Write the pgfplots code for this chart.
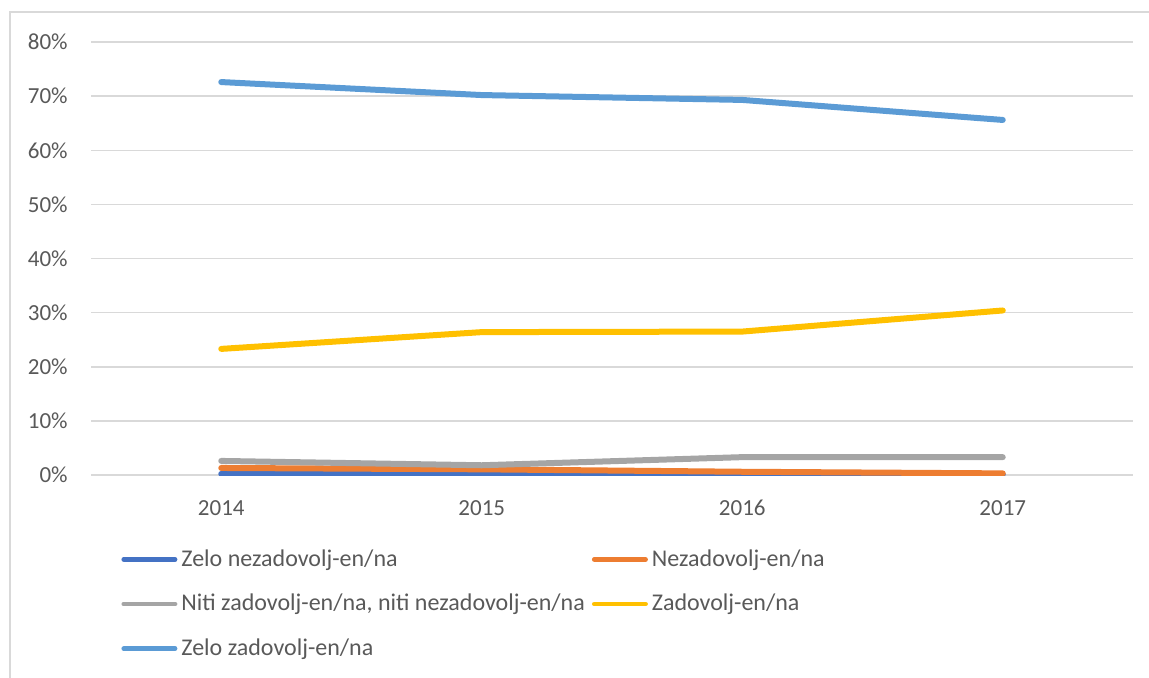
\documentclass[border=0pt]{standalone}
\usepackage{fontspec}
\setmainfont{Carlito}
\usepackage{pgfplots}
\pgfplotsset{compat=1.18}
\definecolor{cA}{HTML}{4472C4}
\definecolor{cB}{HTML}{ED7D31}
\definecolor{cC}{HTML}{A5A5A5}
\definecolor{cD}{HTML}{FFC000}
\definecolor{cE}{HTML}{5B9BD5}
\definecolor{gridc}{HTML}{D9D9D9}
\definecolor{textc}{HTML}{595959}
\begin{document}
\begin{tikzpicture}
\path[use as bounding box] (0pt,0pt) rectangle (574.5pt,-339pt);
\draw[gridc, line width=0.75pt] (5pt,-339pt) -- (5pt,-6pt) -- (574.5pt,-6pt);
\begin{axis}[
  at={(45.5pt,-237.5pt)}, anchor=south west,
  scale only axis, width=521pt, height=216.5pt,
  xmin=-0.5, xmax=3.5, ymin=0, ymax=0.8,
  xtick={0,1,2,3}, xticklabels={2014,2015,2016,2017},
  ytick={0,0.1,0.2,0.3,0.4,0.5,0.6,0.7,0.8},
  yticklabels={0\%,10\%,20\%,30\%,40\%,50\%,60\%,70\%,80\%},
  axis line style={draw=none},
  major tick length=0pt,
  ymajorgrids, grid style={gridc, line width=0.75pt},
  tick label style={font=\fontsize{11.5}{14}\selectfont, text=textc},
  yticklabel style={anchor=east, inner sep=0pt, xshift=-11.5pt},
  xticklabel style={anchor=north, inner sep=0pt, yshift=-12.5pt},
  /pgf/number format/assume math mode=true,
  every axis plot/.append style={line width=3pt, line cap=round, line join=round},
  legend columns=2,
  legend cell align=left,
  legend image code/.code={\draw[#1, line width=2.4pt] (1.2pt,0pt) -- (26.8pt,0pt);},
  legend style={at={(0.0288,-0.162)}, anchor=north west, draw=none, fill=none,
    inner sep=0pt, row sep=8.5pt,
    font=\fontsize{12}{14}\selectfont, text=textc,
    /tikz/every even column/.append style={column sep=1.5pt}},
]
\addplot[cA] coordinates {(0,0.002)(1,0.003)(2,0.001)(3,0.001)};
\addlegendentry{Zelo nezadovolj-en/na}
\addplot[cB] coordinates {(0,0.013)(1,0.0105)(2,0.006)(3,0.003)};
\addlegendentry{Nezadovolj-en/na}
\addplot[cC] coordinates {(0,0.026)(1,0.018)(2,0.033)(3,0.033)};
\addlegendentry{Niti zadovolj-en/na, niti nezadovolj-en/na}
\addplot[cD] coordinates {(0,0.233)(1,0.264)(2,0.265)(3,0.304)};
\addlegendentry{Zadovolj-en/na}
\addplot[cE] coordinates {(0,0.726)(1,0.702)(2,0.693)(3,0.656)};
\addlegendentry{Zelo zadovolj-en/na}
\end{axis}
\end{tikzpicture}
\end{document}
